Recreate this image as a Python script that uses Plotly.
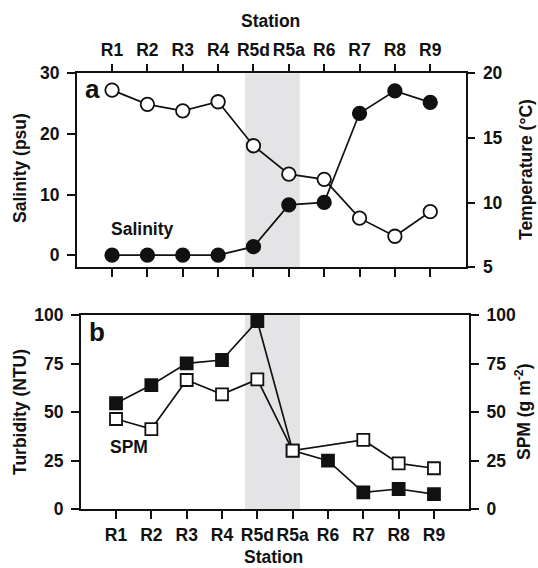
import plotly.graph_objects as go

stations = ["R1", "R2", "R3", "R4", "R5d", "R5a", "R6", "R7", "R8", "R9"]
salinity = [0.0, 0.0, 0.0, 0.0, 1.4, 8.3, 8.7, 23.4, 27.1, 25.2]
temperature = [18.7, 17.6, 17.1, 17.8, 14.4, 12.2, 11.8, 8.8, 7.4, 9.3]
turbidity = [54.5, 63.9, 75.1, 76.8, 96.9, 30.1, 24.9, 8.6, 10.3, 7.7]
spm = [46.4, 41.2, 66.5, 59.1, 66.8, 30.1, None, 35.6, 23.5, 21.0]

W, H = 538, 568
FONT = "Liberation Sans, Arial, Helvetica, sans-serif"
BLACK = "#111111"


def px(x):
    return x / W


def py(y):
    return 1 - y / H


fig = go.Figure()

line_style = dict(color=BLACK, width=1.7)
mk_line = dict(color=BLACK, width=1.8)

fig.add_trace(go.Scatter(x=stations, y=temperature, xaxis="x", yaxis="y2", mode="lines+markers",
                         line=line_style, marker=dict(symbol="circle", size=13.5, color="white", line=mk_line),
                         showlegend=False))
fig.add_trace(go.Scatter(x=stations, y=salinity, xaxis="x", yaxis="y", mode="lines+markers",
                         line=line_style, marker=dict(symbol="circle", size=13.5, color=BLACK, line=mk_line),
                         showlegend=False))
fig.add_trace(go.Scatter(x=stations, y=turbidity, xaxis="x2", yaxis="y3", mode="lines+markers",
                         line=line_style, marker=dict(symbol="square", size=12, color=BLACK, line=mk_line),
                         showlegend=False))
fig.add_trace(go.Scatter(x=stations, y=spm, xaxis="x2", yaxis="y4", mode="lines+markers",
                         connectgaps=True,
                         line=line_style, marker=dict(symbol="square", size=12, color="white", line=mk_line),
                         showlegend=False))

tickfont = dict(family=FONT, size=17.5, color=BLACK, weight="bold")
axis_common = dict(showline=True, linecolor=BLACK, linewidth=1.6, ticks="outside", ticklen=8,
                   tickwidth=1.6, tickcolor=BLACK, showgrid=False, zeroline=False,
                   tickfont=tickfont, ticklabelstandoff=4, automargin=False)
xaxis_extra = dict(ticklabelstandoff=1)

fig.update_layout(
    template="none",
    width=W, height=H, autosize=False,
    margin=dict(l=0, r=0, t=0, b=0, pad=0, autoexpand=False),
    paper_bgcolor="white", plot_bgcolor="white",
    xaxis=dict(axis_common, **xaxis_extra, domain=[px(76.7), px(465.6)], anchor="y", side="top",
               mirror="ticks", type="category", categoryorder="array", categoryarray=stations,
               range=[-1, 10]),
    yaxis=dict(axis_common, domain=[py(267.3), py(73.3)], anchor="x", range=[-2, 30],
               tickvals=[0, 10, 20, 30]),
    yaxis2=dict(axis_common, overlaying="y", side="right", anchor="x", range=[5, 20],
                tickvals=[5, 10, 15, 20]),
    xaxis2=dict(axis_common, **xaxis_extra, domain=[px(80.7), px(469.3)], anchor="y3",
                side="bottom", mirror=True, type="category", categoryorder="array",
                categoryarray=stations, range=[-1, 10]),
    yaxis3=dict(axis_common, domain=[py(509), py(315)], anchor="x2", range=[0, 100],
                tickvals=[0, 25, 50, 75, 100]),
    yaxis4=dict(axis_common, overlaying="y3", side="right", anchor="x2", range=[0, 100],
                tickvals=[0, 25, 50, 75, 100]),
)

shade = "#e4e4e6"
fig.add_shape(type="rect", xref="x", yref="y domain", x0=3.76, x1=5.31, y0=0, y1=1,
              fillcolor=shade, line=dict(width=0), layer="below")
fig.add_shape(type="rect", xref="x2", yref="y3 domain", x0=3.65, x1=5.21, y0=0, y1=1,
              fillcolor=shade, line=dict(width=0), layer="below")

title_font = dict(family=FONT, size=17.5, color=BLACK, weight="bold")


def ann(text, x, y, angle=0, font=title_font):
    fig.add_annotation(text=text, x=px(x), y=py(y), xref="paper", yref="paper",
                       showarrow=False, textangle=angle, font=font,
                       xanchor="center", yanchor="middle")


ann("Station", 270, 21)
ann("Station", 273, 557)
ann("Salinity (psu)", 20, 168, -90)
ann("Temperature (°C)", 526, 170, -90)
ann("Turbidity (NTU)", 20, 412, -90)
ann("SPM (g m<sup>-2</sup>)", 523, 412, -90)
ann("Salinity", 142, 229)
ann("SPM", 129, 447)

panel_font = dict(family=FONT, size=26, color=BLACK, weight="bold")
ann("a", 92, 89, font=panel_font)
ann("b", 97, 332, font=panel_font)

fig.write_html("out.html")
